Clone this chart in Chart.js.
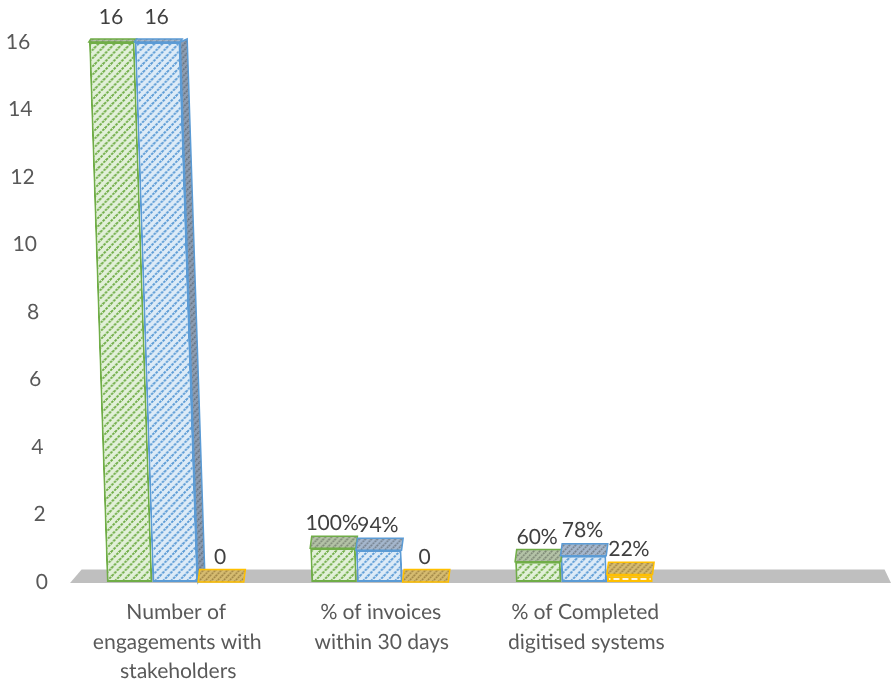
<!DOCTYPE html>
<html>
<head>
<meta charset="utf-8">
<script src="https://cdn.jsdelivr.net/npm/chart.js@4.4.1/dist/chart.umd.min.js"></script>
<style>
    html, body { margin: 0; padding: 0; background: #ffffff; }
    canvas { display: block; }
</style>
</head>
<body>
<canvas id="kpi_canvas" width="891" height="683"></canvas>
<script>
// categories (last slot is left empty on purpose, the floor runs through it)
const categories = [
    ["Number of", "engagements with", "stakeholders"],
    ["% of invoices", "within 30 days"],
    ["% of Completed", "digitised systems"],
    ""
];
const percent_rows = [false, true, true, false];

const green_values = [16, 1.00, 0.60, null];
const blue_values = [16, 0.94, 0.78, null];
const orange_values = [0, 0, 0.22, null];

const y_min = 0;
const y_max = 16;
const y_step = 2;

const font_family = "Lato, 'Open Sans', sans-serif";
const skew = 0.033;

function diagonal_tile(bg, line, size, lw) {
    const c = document.createElement("canvas");
    c.width = size;
    c.height = size;
    const g = c.getContext("2d");
    g.fillStyle = bg;
    g.fillRect(0, 0, size, size);
    g.strokeStyle = line;
    g.lineWidth = lw;
    const dash = size * Math.SQRT2 / 3;
    g.setLineDash([dash * 0.7, dash * 0.3]);
    g.beginPath();
    g.moveTo(0, size);
    g.lineTo(size, 0);
    g.moveTo(-size / 2, size / 2);
    g.lineTo(size / 2, -size / 2);
    g.moveTo(size / 2, size * 1.5);
    g.lineTo(size * 1.5, size / 2);
    g.stroke();
    return c;
}

function brick_tile(bg, cell) {
    const c = document.createElement("canvas");
    c.width = 9;
    c.height = 8;
    const g = c.getContext("2d");
    g.fillStyle = bg;
    g.fillRect(0, 0, 9, 8);
    g.fillStyle = cell;
    g.fillRect(1.5, 2, 6, 4);
    return c;
}

const pattern_ctx = document.createElement("canvas").getContext("2d");
function make_pattern(tile) {
    return pattern_ctx.createPattern(tile, "repeat");
}

const border_colors = ["#70ad47", "#5b9bd5", "#ffc000"];
const front_fills = [
    make_pattern(diagonal_tile("#e2f0d9", "#70ad47", 8, 1.9)),
    make_pattern(diagonal_tile("#ddebf7", "#5b9bd5", 8, 1.9)),
    make_pattern(brick_tile("#ffc000", "#fff8e1"))
];
const top_fills = [
    make_pattern(diagonal_tile("#b3c2a6", "#7e8976", 6, 1.5)),
    make_pattern(diagonal_tile("#a4b6cc", "#76828f", 6, 1.5)),
    make_pattern(diagonal_tile("#d5bb70", "#a08646", 6, 1.5))
];
const side_fills = [
    make_pattern(diagonal_tile("#9aa891", "#6f7a68", 6, 1.5)),
    make_pattern(diagonal_tile("#8d9db2", "#66727f", 6, 1.5)),
    make_pattern(diagonal_tile("#c4a85e", "#94803f", 6, 1.5))
];

function value_label(v, row) {
    if (v === 0) {return "0";}
    return percent_rows[row] ? Math.round(v * 100) + "%" : String(v);
}

// top faces get deeper towards the floor
function face_depth(chart, py) {
    const area = chart.chartArea;
    return 3 + 9.5 * (py - area.top) / (area.bottom - area.top);
}

function fill_poly(ctx, pts, fill, stroke) {
    ctx.beginPath();
    ctx.moveTo(pts[0][0], pts[0][1]);
    for (let i = 1; i < pts.length; i++) {
        ctx.lineTo(pts[i][0], pts[i][1]);
    }
    ctx.closePath();
    ctx.fillStyle = fill;
    ctx.fill();
    if (stroke) {
        ctx.strokeStyle = stroke;
        ctx.lineWidth = 1.5;
        ctx.stroke();
    }
}

const perspective_plugin = {
    id: "perspective",
    beforeDraw(chart) {
        const ctx = chart.ctx;
        const base = chart.scales.y.getPixelForValue(0);
        ctx.save();
        ctx.transform(1, 0, skew, 1, -skew * base, 0);
    },
    beforeDatasetsDraw(chart) {
        const ctx = chart.ctx;
        const area = chart.chartArea;
        const y0 = chart.scales.y.getPixelForValue(0);
        const d = face_depth(chart, y0);
        fill_poly(ctx, [
            [area.left - 3, y0 + 1],
            [area.right, y0 + 1],
            [area.right - 6, y0 - d],
            [area.left + 9, y0 - d]
        ], "#bfbfbf", null);
    },
    afterDatasetsDraw(chart) {
        const ctx = chart.ctx;
        const area = chart.chartArea;
        const datasets = chart.data.datasets;

        datasets.forEach((ds, di) => {
            const meta = chart.getDatasetMeta(di);
            meta.data.forEach((bar, i) => {
                if (ds.data[i] === null) {return;}
                const {x, y, width} = bar.getProps(["x", "y", "width"], true);
                const left = x - width / 2;
                const right = x + width / 2;
                const d = face_depth(chart, y);

                // right side shows only where the next bar is much lower
                const next = datasets[di + 1];
                if (next && next.data[i] !== null && next.data[i] < ds.data[i]) {
                    const ny = chart.getDatasetMeta(di + 1).data[i].y;
                    const sw = 7 * (ny - y) / (area.bottom - area.top);
                    if (sw > 1) {
                        fill_poly(ctx, [
                            [right, y],
                            [right + sw, y - d],
                            [right + sw, ny - face_depth(chart, ny)],
                            [right, ny]
                        ], side_fills[di], border_colors[di]);
                    }
                }

                fill_poly(ctx, [
                    [left, y],
                    [left + 2, y - d],
                    [right + 2, y - d],
                    [right, y]
                ], top_fills[di], border_colors[di]);
            });
        });

        ctx.save();
        ctx.fillStyle = "#404040";
        ctx.font = "21px " + font_family;
        ctx.textAlign = "center";
        ctx.textBaseline = "middle";
        datasets.forEach((ds, di) => {
            const meta = chart.getDatasetMeta(di);
            meta.data.forEach((bar, i) => {
                if (ds.data[i] === null) {return;}
                ctx.fillText(value_label(ds.data[i], i), bar.x, bar.y - 25);
            });
        });
        ctx.restore();
    },
    afterDraw(chart) {
        chart.ctx.restore();
    }
};

function bar_dataset(values, idx) {
    return {
        data: values,
        backgroundColor: front_fills[idx],
        borderColor: border_colors[idx],
        borderWidth: 2,
        borderSkipped: false,
        categoryPercentage: 0.67,
        barPercentage: 1.0,
        clip: false
    };
}

const config = {
    type: "bar",
    data: {
        labels: categories,
        datasets: [
            bar_dataset(green_values, 0),
            bar_dataset(blue_values, 1),
            bar_dataset(orange_values, 2)
        ]
    },
    options: {
        responsive: false,
        animation: false,
        layout: {
            padding: {top: 42, right: 0, bottom: 0, left: 0}
        },
        plugins: {
            legend: {display: false},
            tooltip: {enabled: false}
        },
        scales: {
            x: {
                grid: {display: false, drawTicks: false},
                border: {display: false},
                ticks: {
                    color: "#595959",
                    font: {family: font_family, size: 21, lineHeight: 1.4},
                    padding: 16,
                    maxRotation: 0,
                    autoSkip: false
                },
                afterFit: (scale) => { scale.height = 101; }
            },
            y: {
                min: y_min,
                max: y_max,
                grid: {display: false, drawTicks: false},
                border: {display: false},
                ticks: {
                    stepSize: y_step,
                    color: "#595959",
                    font: {family: font_family, size: 21},
                    padding: 25
                },
                afterFit: (scale) => { scale.width = 73; }
            }
        }
    },
    plugins: [perspective_plugin]
};

const kpi_plot = new Chart(document.getElementById("kpi_canvas"), config);
</script>
</body>
</html>
